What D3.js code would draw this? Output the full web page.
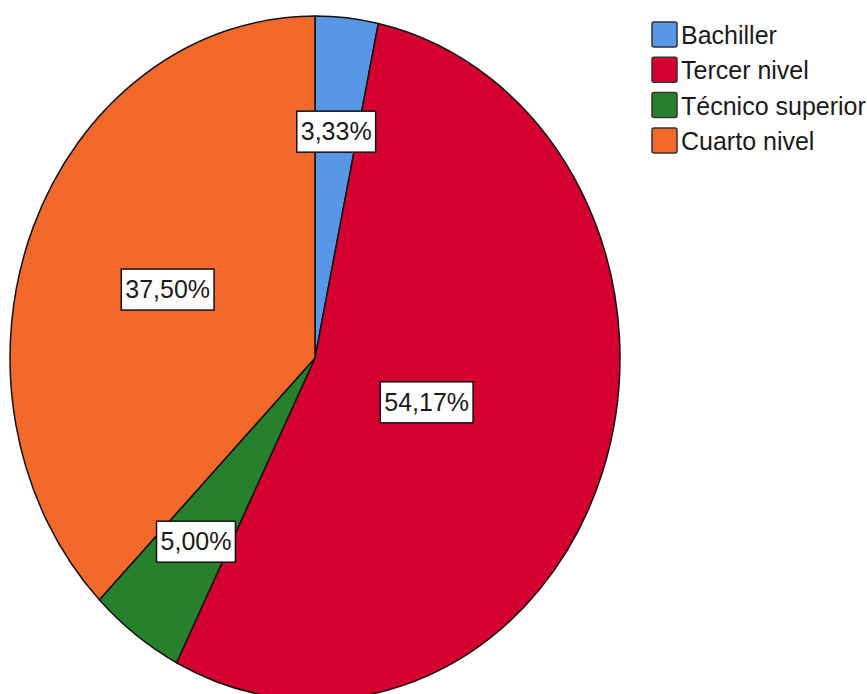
<!DOCTYPE html>
<html>
<head>
<meta charset="utf-8">
<script src="https://cdn.jsdelivr.net/npm/d3@7"></script>
<style>
  html, body { margin: 0; padding: 0; background: #fff; }
  svg { display: block; }
  text { font-family: "Liberation Sans", Arial, sans-serif; fill: #1a1a1a; }
</style>
</head>
<body>
<svg id="chart" width="867" height="694"></svg>
<script>
// Nivel de instrucción (porcentajes)
const categories = ["Bachiller", "Tercer nivel", "Técnico superior", "Cuarto nivel"];
const percentages = [3.33, 54.17, 5.00, 37.50];
const sliceColors = ["#5897E5", "#D4002F", "#27802B", "#F2692B"];

const W = 867, H = 694;
const cx = 315, cy = 358, rx = 305, ry = 342;

const svg = d3.select("#chart");

const data = categories.map((c, i) => ({ category: c, value: percentages[i] }));

const color = d3.scaleOrdinal().domain(categories).range(sliceColors);

const pie = d3.pie().value(d => d.value).sort(null).startAngle(0).endAngle(2 * Math.PI);
const arcs = pie(data);

const arc = d3.arc().innerRadius(0).outerRadius(rx);

// The pie is drawn as a circle and stretched vertically into an ellipse
const pieG = svg.append("g")
  .attr("transform", `translate(${cx},${cy}) scale(1,${ry / rx})`);

pieG.selectAll("path.slice")
  .data(arcs)
  .join("path")
  .attr("class", "slice")
  .attr("d", arc)
  .attr("fill", d => color(d.data.category))
  .attr("stroke", "#111")
  .attr("stroke-width", 1.5)
  .attr("stroke-linejoin", "round")
  .attr("vector-effect", "non-scaling-stroke");

// Labels sit at the centroid of each sector
const fmt = v => v.toFixed(2).replace(".", ",") + "%";
const labelG = svg.append("g");

arcs.forEach(d => {
  const theta = d.endAngle - d.startAngle;
  const mid = (d.startAngle + d.endAngle) / 2;
  const f = 4 * Math.sin(theta / 2) / (3 * theta);
  const x = cx + f * rx * Math.sin(mid);
  const y = cy - f * ry * Math.cos(mid);

  const g = labelG.append("g").attr("transform", `translate(${x},${y})`);
  const rect = g.append("rect");
  const t = g.append("text")
    .attr("text-anchor", "middle")
    .attr("dy", "0.35em")
    .attr("font-size", 25)
    .text(fmt(d.data.value));
  const bb = t.node().getBBox();
  const bw = bb.width + 8, bh = 41;
  rect.attr("x", -bw / 2).attr("y", -bh / 2)
    .attr("width", bw).attr("height", bh)
    .attr("fill", "#fff")
    .attr("stroke", "#111")
    .attr("stroke-width", 1.5);
});

// Legend
const legend = svg.append("g").attr("transform", "translate(652,22)");
const item = legend.selectAll("g.item")
  .data(categories)
  .join("g")
  .attr("class", "item")
  .attr("transform", (d, i) => `translate(0,${i * 35.3})`);

item.append("rect")
  .attr("x", 0).attr("y", 0)
  .attr("width", 25).attr("height", 25)
  .attr("rx", 2)
  .attr("fill", d => color(d))
  .attr("stroke", "#333")
  .attr("stroke-width", 1.5);

item.append("text")
  .attr("x", 29)
  .attr("y", 22)
  .attr("font-size", 25)
  .text(d => d);
</script>
</body>
</html>
